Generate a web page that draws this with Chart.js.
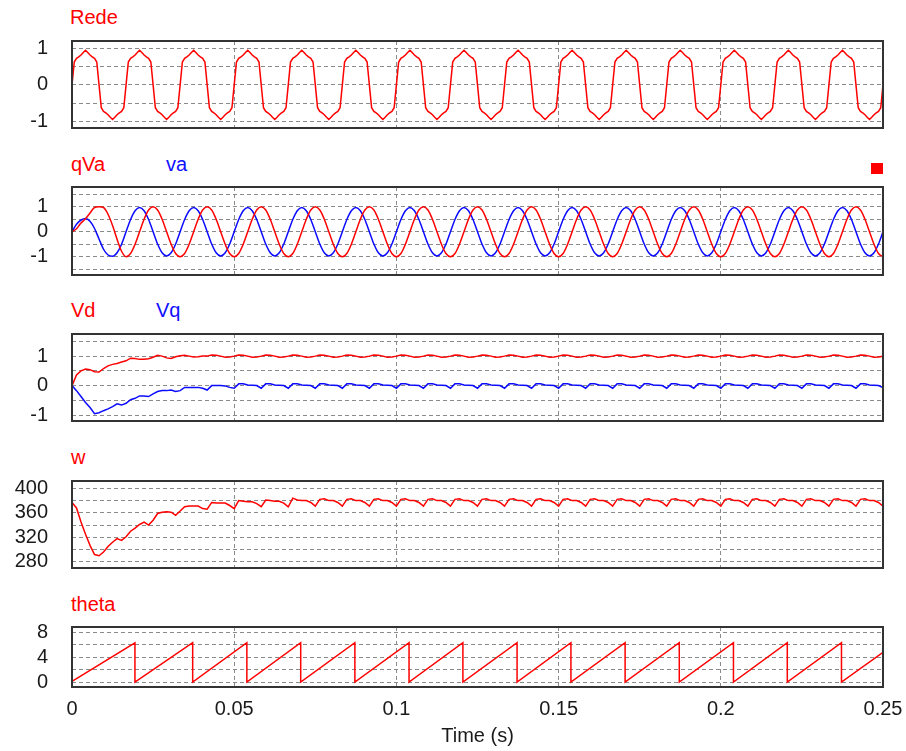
<!DOCTYPE html>
<html>
<head>
<meta charset="utf-8">
<title>Rede / qVa / Vd / w / theta</title>
<script src="https://cdn.jsdelivr.net/npm/chart.js@4.4.1/dist/chart.umd.min.js"></script>
<style>
  body { margin: 0; background: #fff; width: 906px; height: 751px; position: relative; overflow: hidden;
         font-family: "Liberation Sans", Arial, sans-serif; }
  canvas { position: absolute; left: 0; }
  .lbl { position: absolute; font-size: 20px; line-height: 20px; white-space: nowrap; }
  .red { color: #ff0000; }
  .blue { color: #1010ff; }
  #marker { position: absolute; left: 871px; top: 163px; width: 12px; height: 11px; background: #ff0000; }
</style>
</head>
<body>
<div class="lbl red" style="left:70px; top:7px">Rede</div>
<div class="lbl red" style="left:71px; top:154px">qVa</div>
<div class="lbl blue" style="left:166px; top:154px">va</div>
<div id="marker"></div>
<div class="lbl red" style="left:71px; top:300px">Vd</div>
<div class="lbl blue" style="left:156px; top:300px">Vq</div>
<div class="lbl red" style="left:71px; top:447px">w</div>
<div class="lbl red" style="left:71px; top:594px">theta</div>

<canvas id="c-rede"></canvas>
<canvas id="c-qva"></canvas>
<canvas id="c-vdq"></canvas>
<canvas id="c-w"></canvas>
<canvas id="c-theta"></canvas>

<script>
// ---- Dados ----
// tempo: 0 .. 0.25 s
const xTicks = [0, 0.05, 0.1, 0.15, 0.2, 0.25];

// Rede: amostras a cada 1/1440 s (24 por ciclo de 60 Hz)
const redeStep = 1 / 1440;
const rede = [
  0, 0.62, 0.72, 0.76, 0.81, 0.88, 0.94, 0.88, 0.81, 0.76, 0.72, 0.62, 0, -0.62, -0.72, -0.76, -0.81, -0.88, -0.94, -0.88, -0.81, -0.76, -0.72, -0.62,
  0, 0.62, 0.72, 0.76, 0.81, 0.88, 0.94, 0.88, 0.81, 0.76, 0.72, 0.62, 0, -0.62, -0.72, -0.76, -0.81, -0.88, -0.94, -0.88, -0.81, -0.76, -0.72, -0.62,
  0, 0.62, 0.72, 0.76, 0.81, 0.88, 0.94, 0.88, 0.81, 0.76, 0.72, 0.62, 0, -0.62, -0.72, -0.76, -0.81, -0.88, -0.94, -0.88, -0.81, -0.76, -0.72, -0.62,
  0, 0.62, 0.72, 0.76, 0.81, 0.88, 0.94, 0.88, 0.81, 0.76, 0.72, 0.62, 0, -0.62, -0.72, -0.76, -0.81, -0.88, -0.94, -0.88, -0.81, -0.76, -0.72, -0.62,
  0, 0.62, 0.72, 0.76, 0.81, 0.88, 0.94, 0.88, 0.81, 0.76, 0.72, 0.62, 0, -0.62, -0.72, -0.76, -0.81, -0.88, -0.94, -0.88, -0.81, -0.76, -0.72, -0.62,
  0, 0.62, 0.72, 0.76, 0.81, 0.88, 0.94, 0.88, 0.81, 0.76, 0.72, 0.62, 0, -0.62, -0.72, -0.76, -0.81, -0.88, -0.94, -0.88, -0.81, -0.76, -0.72, -0.62,
  0, 0.62, 0.72, 0.76, 0.81, 0.88, 0.94, 0.88, 0.81, 0.76, 0.72, 0.62, 0, -0.62, -0.72, -0.76, -0.81, -0.88, -0.94, -0.88, -0.81, -0.76, -0.72, -0.62,
  0, 0.62, 0.72, 0.76, 0.81, 0.88, 0.94, 0.88, 0.81, 0.76, 0.72, 0.62, 0, -0.62, -0.72, -0.76, -0.81, -0.88, -0.94, -0.88, -0.81, -0.76, -0.72, -0.62,
  0, 0.62, 0.72, 0.76, 0.81, 0.88, 0.94, 0.88, 0.81, 0.76, 0.72, 0.62, 0, -0.62, -0.72, -0.76, -0.81, -0.88, -0.94, -0.88, -0.81, -0.76, -0.72, -0.62,
  0, 0.62, 0.72, 0.76, 0.81, 0.88, 0.94, 0.88, 0.81, 0.76, 0.72, 0.62, 0, -0.62, -0.72, -0.76, -0.81, -0.88, -0.94, -0.88, -0.81, -0.76, -0.72, -0.62,
  0, 0.62, 0.72, 0.76, 0.81, 0.88, 0.94, 0.88, 0.81, 0.76, 0.72, 0.62, 0, -0.62, -0.72, -0.76, -0.81, -0.88, -0.94, -0.88, -0.81, -0.76, -0.72, -0.62,
  0, 0.62, 0.72, 0.76, 0.81, 0.88, 0.94, 0.88, 0.81, 0.76, 0.72, 0.62, 0, -0.62, -0.72, -0.76, -0.81, -0.88, -0.94, -0.88, -0.81, -0.76, -0.72, -0.62,
  0, 0.62, 0.72, 0.76, 0.81, 0.88, 0.94, 0.88, 0.81, 0.76, 0.72, 0.62, 0, -0.62, -0.72, -0.76, -0.81, -0.88, -0.94, -0.88, -0.81, -0.76, -0.72, -0.62,
  0, 0.62, 0.72, 0.76, 0.81, 0.88, 0.94, 0.88, 0.81, 0.76, 0.72, 0.62, 0, -0.62, -0.72, -0.76, -0.81, -0.88, -0.94, -0.88, -0.81, -0.76, -0.72, -0.62,
  0, 0.62, 0.72, 0.76, 0.81, 0.88, 0.94, 0.88, 0.81, 0.76, 0.72, 0.62, 0, -0.62, -0.72, -0.76, -0.81, -0.88, -0.94, -0.88, -0.81, -0.76, -0.72, -0.62,
  0
];

// qVa / va: amostras a cada 1/720 s (12 por ciclo)
const waveStep = 1 / 720;
const qVa = [
  0, 0.12, 0.35, 0.52, 0.75, 0.97, 1, 0.97, 0.7, 0.25, -0.3, -0.78,
  -1, -0.87, -0.5, 0, 0.5, 0.87, 1, 0.87, 0.5, 0, -0.5, -0.87,
  -1, -0.87, -0.5, 0, 0.5, 0.87, 1, 0.87, 0.5, 0, -0.5, -0.87,
  -1, -0.87, -0.5, 0, 0.5, 0.87, 1, 0.87, 0.5, 0, -0.5, -0.87,
  -1, -0.87, -0.5, 0, 0.5, 0.87, 1, 0.87, 0.5, 0, -0.5, -0.87,
  -1, -0.87, -0.5, 0, 0.5, 0.87, 1, 0.87, 0.5, 0, -0.5, -0.87,
  -1, -0.87, -0.5, 0, 0.5, 0.87, 1, 0.87, 0.5, 0, -0.5, -0.87,
  -1, -0.87, -0.5, 0, 0.5, 0.87, 1, 0.87, 0.5, 0, -0.5, -0.87,
  -1, -0.87, -0.5, 0, 0.5, 0.87, 1, 0.87, 0.5, 0, -0.5, -0.87,
  -1, -0.87, -0.5, 0, 0.5, 0.87, 1, 0.87, 0.5, 0, -0.5, -0.87,
  -1, -0.87, -0.5, 0, 0.5, 0.87, 1, 0.87, 0.5, 0, -0.5, -0.87,
  -1, -0.87, -0.5, 0, 0.5, 0.87, 1, 0.87, 0.5, 0, -0.5, -0.87,
  -1, -0.87, -0.5, 0, 0.5, 0.87, 1, 0.87, 0.5, 0, -0.5, -0.87,
  -1, -0.87, -0.5, 0, 0.5, 0.87, 1, 0.87, 0.5, 0, -0.5, -0.87,
  -1, -0.87, -0.5, 0, 0.5, 0.87, 1, 0.87, 0.5, 0, -0.5, -0.87,
  -1
];
const va = [
  0, 0.3, 0.47, 0.53, 0.42, 0.13, -0.29, -0.7, -0.93, -0.98, -0.84, -0.5,
  0, 0.49, 0.84, 0.97, 0.84, 0.49, 0, -0.49, -0.84, -0.97, -0.84, -0.49,
  0, 0.49, 0.84, 0.97, 0.84, 0.49, 0, -0.49, -0.84, -0.97, -0.84, -0.49,
  0, 0.49, 0.84, 0.97, 0.84, 0.49, 0, -0.49, -0.84, -0.97, -0.84, -0.49,
  0, 0.49, 0.84, 0.97, 0.84, 0.49, 0, -0.49, -0.84, -0.97, -0.84, -0.49,
  0, 0.49, 0.84, 0.97, 0.84, 0.49, 0, -0.49, -0.84, -0.97, -0.84, -0.49,
  0, 0.49, 0.84, 0.97, 0.84, 0.49, 0, -0.49, -0.84, -0.97, -0.84, -0.49,
  0, 0.49, 0.84, 0.97, 0.84, 0.49, 0, -0.49, -0.84, -0.97, -0.84, -0.49,
  0, 0.49, 0.84, 0.97, 0.84, 0.49, 0, -0.49, -0.84, -0.97, -0.84, -0.49,
  0, 0.49, 0.84, 0.97, 0.84, 0.49, 0, -0.49, -0.84, -0.97, -0.84, -0.49,
  0, 0.49, 0.84, 0.97, 0.84, 0.49, 0, -0.49, -0.84, -0.97, -0.84, -0.49,
  0, 0.49, 0.84, 0.97, 0.84, 0.49, 0, -0.49, -0.84, -0.97, -0.84, -0.49,
  0, 0.49, 0.84, 0.97, 0.84, 0.49, 0, -0.49, -0.84, -0.97, -0.84, -0.49,
  0, 0.49, 0.84, 0.97, 0.84, 0.49, 0, -0.49, -0.84, -0.97, -0.84, -0.49,
  0, 0.49, 0.84, 0.97, 0.84, 0.49, 0, -0.49, -0.84, -0.97, -0.84, -0.49,
  0
];

// Vd / Vq / w: amostras a cada 1/720 s
const ctrlStep = 1 / 720;
const vd = [
  0, 0.36, 0.5, 0.56, 0.54, 0.47, 0.46, 0.58, 0.67, 0.72,
  0.75, 0.8, 0.84, 0.93, 0.92, 0.89, 0.89, 0.91, 0.96, 1.03,
  1, 0.94, 0.92, 0.98, 1.01, 1.03, 1, 0.97, 0.98, 1,
  1, 1.04, 1.03, 1, 0.96, 0.97, 1, 1.04, 1.03, 1, 0.96, 0.97,
  1, 1.04, 1.03, 1, 0.96, 0.97, 1, 1.04, 1.03, 1, 0.96, 0.97,
  1, 1.04, 1.03, 1, 0.96, 0.97, 1, 1.04, 1.03, 1, 0.96, 0.97,
  1, 1.04, 1.03, 1, 0.96, 0.97, 1, 1.04, 1.03, 1, 0.96, 0.97,
  1, 1.04, 1.03, 1, 0.96, 0.97, 1, 1.04, 1.03, 1, 0.96, 0.97,
  1, 1.04, 1.03, 1, 0.96, 0.97, 1, 1.04, 1.03, 1, 0.96, 0.97,
  1, 1.04, 1.03, 1, 0.96, 0.97, 1, 1.04, 1.03, 1, 0.96, 0.97,
  1, 1.04, 1.03, 1, 0.96, 0.97, 1, 1.04, 1.03, 1, 0.96, 0.97,
  1, 1.04, 1.03, 1, 0.96, 0.97, 1, 1.04, 1.03, 1, 0.96, 0.97,
  1, 1.04, 1.03, 1, 0.96, 0.97, 1, 1.04, 1.03, 1, 0.96, 0.97,
  1, 1.04, 1.03, 1, 0.96, 0.97, 1, 1.04, 1.03, 1, 0.96, 0.97,
  1, 1.04, 1.03, 1, 0.96, 0.97, 1, 1.04, 1.03, 1, 0.96, 0.97,
  1, 1.04, 1.03, 1, 0.96, 0.97,
  1
];
const vq = [
  0, -0.17, -0.37, -0.57, -0.74, -0.95, -0.92, -0.85, -0.79, -0.71,
  -0.62, -0.66, -0.6, -0.48, -0.43, -0.35, -0.35, -0.37, -0.28, -0.2,
  -0.17, -0.17, -0.15, -0.2, -0.17, -0.06, -0.06, -0.06, -0.06, -0.09,
  -0.15, 0, 0, 0, -0.01, -0.06,
  -0.09, 0.06, 0.06, 0.02, 0.01, 0, -0.09, 0.06, 0.06, 0.02, 0.01, 0,
  -0.09, 0.06, 0.06, 0.02, 0.01, 0, -0.09, 0.06, 0.06, 0.02, 0.01, 0,
  -0.09, 0.06, 0.06, 0.02, 0.01, 0, -0.09, 0.06, 0.06, 0.02, 0.01, 0,
  -0.09, 0.06, 0.06, 0.02, 0.01, 0, -0.09, 0.06, 0.06, 0.02, 0.01, 0,
  -0.09, 0.06, 0.06, 0.02, 0.01, 0, -0.09, 0.06, 0.06, 0.02, 0.01, 0,
  -0.09, 0.06, 0.06, 0.02, 0.01, 0, -0.09, 0.06, 0.06, 0.02, 0.01, 0,
  -0.09, 0.06, 0.06, 0.02, 0.01, 0, -0.09, 0.06, 0.06, 0.02, 0.01, 0,
  -0.09, 0.06, 0.06, 0.02, 0.01, 0, -0.09, 0.06, 0.06, 0.02, 0.01, 0,
  -0.09, 0.06, 0.06, 0.02, 0.01, 0, -0.09, 0.06, 0.06, 0.02, 0.01, 0,
  -0.09, 0.06, 0.06, 0.02, 0.01, 0, -0.09, 0.06, 0.06, 0.02, 0.01, 0,
  -0.09, 0.06, 0.06, 0.02, 0.01, 0, -0.09, 0.06, 0.06, 0.02, 0.01, 0,
  -0.09, 0.06, 0.06, 0.02, 0.01, 0, -0.09, 0.06, 0.06, 0.02, 0.01, 0,
  -0.07
];
const w = [
  377, 368, 345, 325, 307, 292, 290, 296, 305, 312,
  318, 315, 321, 330, 335, 341, 345, 340, 348, 359,
  361, 362, 361, 356, 363, 370, 371, 371, 371, 367,
  366, 377, 376, 376, 376, 372, 367, 380, 379, 378,
  378, 375, 370, 381, 380, 379, 379, 376, 370, 384,
  381, 380, 380, 377,
  371, 382, 383, 380, 380, 377, 371, 382, 383, 380, 380, 377,
  371, 382, 383, 380, 380, 377, 371, 382, 383, 380, 380, 377,
  371, 382, 383, 380, 380, 377, 371, 382, 383, 380, 380, 377,
  371, 382, 383, 380, 380, 377, 371, 382, 383, 380, 380, 377,
  371, 382, 383, 380, 380, 377, 371, 382, 383, 380, 380, 377,
  371, 382, 383, 380, 380, 377, 371, 382, 383, 380, 380, 377,
  371, 382, 383, 380, 380, 377, 371, 382, 383, 380, 380, 377,
  371, 382, 383, 380, 380, 377, 371, 382, 383, 380, 380, 377,
  371, 382, 383, 380, 380, 377, 371, 382, 383, 380, 380, 377,
  371, 382, 383, 380, 380, 377, 371, 382, 383, 380, 380, 377,
  371, 382, 383, 380, 380, 377,
  371
];

// theta: dente de serra (instantes de reset)
const thetaTime = [0, 0.0194, 0.0194, 0.0372, 0.0372, 0.0539, 0.0539, 0.0705, 0.0705, 0.0872, 0.0872,
  0.1039, 0.1039, 0.1205, 0.1205, 0.1372, 0.1372, 0.1538, 0.1538, 0.1705, 0.1705,
  0.1872, 0.1872, 0.2039, 0.2039, 0.2205, 0.2205, 0.2372, 0.2372, 0.25];
const thetaValue = [0.1, 6.28, 0, 6.28, 0, 6.28, 0, 6.28, 0, 6.28, 0,
  6.28, 0, 6.28, 0, 6.28, 0, 6.28, 0, 6.28, 0,
  6.28, 0, 6.28, 0, 6.28, 0, 6.28, 0, 4.75];

// grades e rotulos do eixo y
const redeTicks = [-1, -0.5, 0, 0.5, 1];
const redeLabels = [-1, 0, 1];
const qvaTicks = [-1.5, -1, -0.5, 0, 0.5, 1, 1.5];
const qvaLabels = [-1, 0, 1];
const vdqTicks = [-1, -0.5, 0, 0.5, 1, 1.5];
const vdqLabels = [-1, 0, 1];
const wTicks = [280, 300, 320, 340, 360, 380, 400];
const wLabels = [280, 320, 360, 400];
const thetaTicks = [0, 2, 4, 6, 8];
const thetaLabels = [0, 4, 8];

// ---- Estilo ----
const RED = '#ff0000';
const BLUE = '#0a0aff';
const GRID = '#8a8a8a';
Chart.defaults.font.family = '"Liberation Sans", Arial, sans-serif';
Chart.defaults.font.size = 20;
Chart.defaults.color = '#1a1a1a';

// moldura escura em volta da area de plotagem
const boxPlugin = {
  id: 'box',
  afterDraw(chart) {
    const a = chart.chartArea;
    const ctx = chart.ctx;
    ctx.save();
    ctx.strokeStyle = '#333';
    ctx.lineWidth = 2;
    ctx.strokeRect(a.left, a.top, a.right - a.left, a.bottom - a.top);
    ctx.restore();
  }
};

function sampled(values, step) {
  return values.map((v, i) => ({ x: i * step, y: v }));
}

function line(data, color, smooth) {
  return {
    data,
    borderColor: color,
    borderWidth: 1.5,
    pointRadius: 0,
    fill: false,
    tension: 0,
    cubicInterpolationMode: smooth ? 'monotone' : 'default'
  };
}

// sem folga extra dos rotulos: a moldura fica onde foi pedida
function noPadding(s) {
  s.paddingTop = 0;
  s.paddingBottom = 0;
  s.paddingLeft = 0;
  s.paddingRight = 0;
}

// cria um painel; boxTop/boxH = moldura em px da pagina
function makePanel(id, boxTop, boxH, yMin, yMax, yTicks, yLabels, datasets, last) {
  const canvas = document.getElementById(id);
  const top = boxTop - 3;
  const height = last ? 751 - top : boxH + 6;
  canvas.width = 906;
  canvas.height = height;
  canvas.style.top = top + 'px';

  return new Chart(canvas, {
    type: 'line',
    data: { datasets },
    plugins: [boxPlugin],
    options: {
      responsive: false,
      animation: false,
      events: [],
      layout: { padding: { left: 0, right: 23, top: 3, bottom: last ? 0 : 3 } },
      plugins: { legend: { display: false }, tooltip: { enabled: false } },
      scales: {
        x: {
          type: 'linear',
          min: 0,
          max: 0.25,
          afterBuildTicks: s => { s.ticks = xTicks.map(v => ({ value: v })); },
          afterFit: s => {
            s.height = last ? 751 - (boxTop + boxH) : 0;
            noPadding(s);
          },
          ticks: {
            display: last,
            padding: 10,
            maxRotation: 0,
            autoSkip: false,
            callback: v => String(v)
          },
          title: { display: last, text: 'Time (s)', padding: { top: 0, bottom: 3 } },
          grid: { color: GRID, lineWidth: 1, drawTicks: false },
          border: { display: false, dash: [4, 3] }
        },
        y: {
          min: yMin,
          max: yMax,
          afterBuildTicks: s => { s.ticks = yTicks.map(v => ({ value: v })); },
          afterFit: s => {
            s.width = 72;
            noPadding(s);
          },
          ticks: {
            padding: 24,
            autoSkip: false,
            callback: v => (yLabels.includes(v) ? String(v) : '')
          },
          grid: { color: GRID, lineWidth: 1, drawTicks: false },
          border: { display: false, dash: [4, 3] }
        }
      }
    }
  });
}

makePanel('c-rede', 41, 87, -1.17, 1.19, redeTicks, redeLabels,
  [line(sampled(rede, redeStep), RED, false)], false);

makePanel('c-qva', 187, 88, -1.73, 1.79, qvaTicks, qvaLabels,
  [line(sampled(qVa, waveStep), RED, true), line(sampled(va, waveStep), BLUE, true)], false);

makePanel('c-vdq', 334, 87, -1.2, 1.75, vdqTicks, vdqLabels,
  [line(sampled(vd, ctrlStep), RED, false), line(sampled(vq, ctrlStep), BLUE, false)], false);

makePanel('c-w', 481, 87, 270, 412, wTicks, wLabels,
  [line(sampled(w, ctrlStep), RED, false)], false);

makePanel('c-theta', 627, 60, -0.8, 8.8, thetaTicks, thetaLabels,
  [line(thetaTime.map((t, i) => ({ x: t, y: thetaValue[i] })), RED, false)], true);
</script>
</body>
</html>
